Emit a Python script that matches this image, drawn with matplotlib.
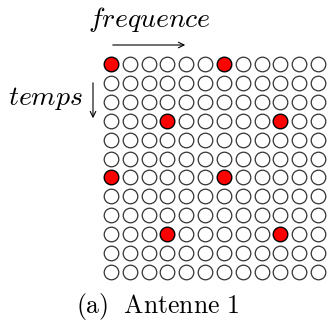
import matplotlib
matplotlib.use("Agg")
import matplotlib.pyplot as plt
import numpy as np

plt.rcParams['mathtext.fontset'] = 'cm'

n_cols = 12
n_rows = 12
pilot_rows = [0, 0, 3, 3, 6, 6, 9, 9]
pilot_cols = [0, 6, 3, 9, 0, 6, 3, 9]
caption = r'$\mathrm{(a)\ \ Antenne\ 1}$'

W, H = 328, 322
fig = plt.figure(figsize=(W / 100, H / 100), dpi=100)
ax = fig.add_axes([101.6 / W, (H - 281.5) / H, 225.8 / W, 227 / H])
ax.set_xlim(-0.5, n_cols - 0.5)
ax.set_ylim(n_rows - 0.5, -0.5)
ax.axis('off')

cc, rr = np.meshgrid(np.arange(n_cols), np.arange(n_rows))
pilots = set(zip(pilot_rows, pilot_cols))
mask = np.array([(r, c) in pilots for r, c in zip(rr.ravel(), cc.ravel())])
ax.plot(cc.ravel()[~mask], rr.ravel()[~mask], 'o', ms=10.5, mfc='white',
        mec='#333333', mew=0.9, ls='none', clip_on=False)
ax.plot(pilot_cols, pilot_rows, 'o', ms=10.5, mfc='red',
        mec='black', mew=1.0, ls='none', clip_on=False)


def fx(px):
    return px / W


def fy(py):
    return 1 - py / H


# axis arrows and labels
ax.annotate('', xy=(fx(188), fy(45)), xytext=(fx(110), fy(45)),
            xycoords='figure fraction', textcoords='figure fraction',
            arrowprops=dict(arrowstyle='->', lw=0.8, color='black'))
ax.annotate('', xy=(fx(93), fy(121)), xytext=(fx(93), fy(80)),
            xycoords='figure fraction', textcoords='figure fraction',
            arrowprops=dict(arrowstyle='->', lw=0.8, color='black'))
fig.text(fx(149), fy(20), r'$frequence$', ha='center', va='center', fontsize=20)
fig.text(fx(45), fy(98), r'$temps$', ha='center', va='center', fontsize=20)
fig.text(fx(158), fy(306), caption, ha='center', va='center', fontsize=18.5)

fig.savefig('out.png', dpi=100)
